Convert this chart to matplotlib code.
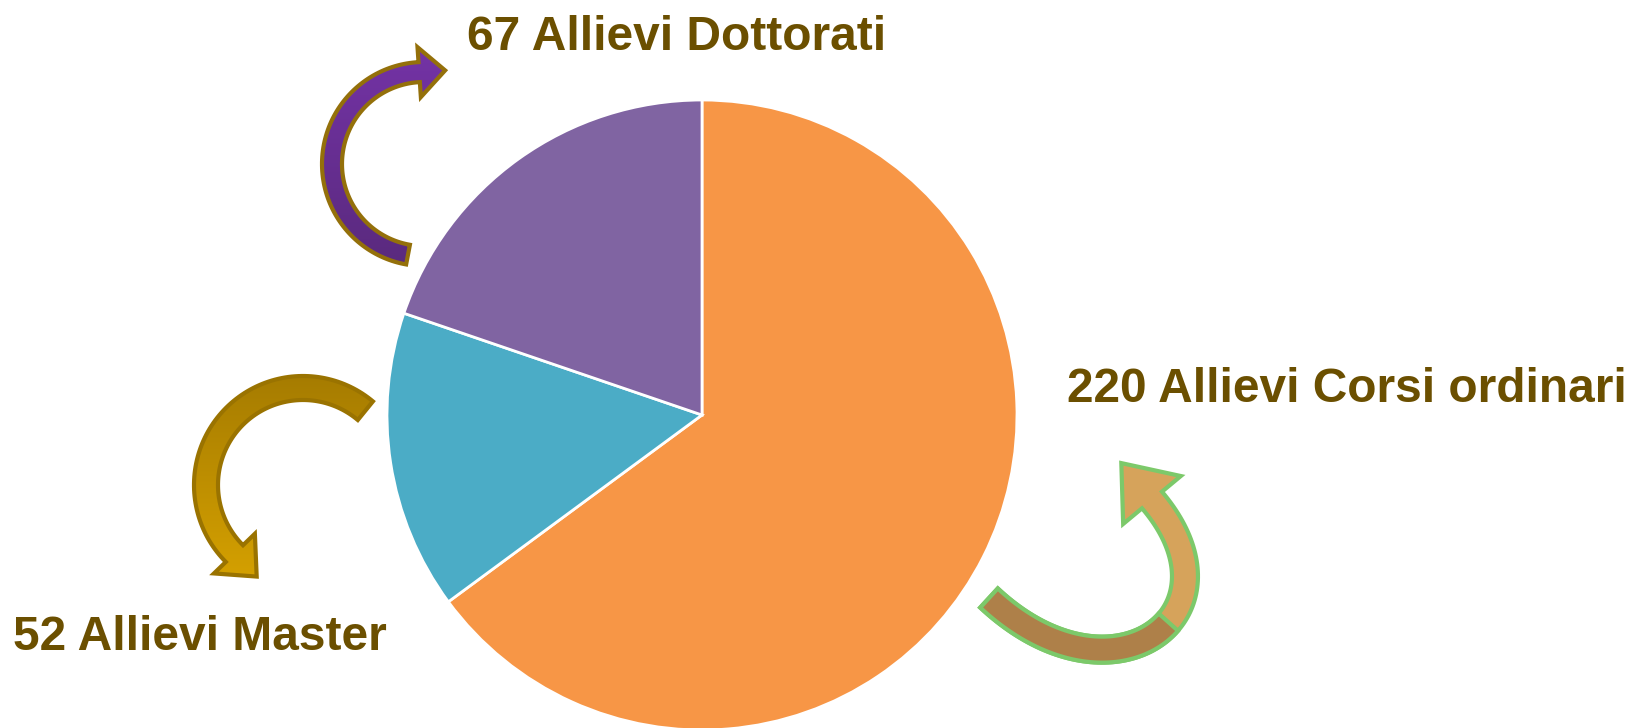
import numpy as np
import matplotlib
matplotlib.use("Agg")
import matplotlib.pyplot as plt
from matplotlib.patches import Polygon

plt.rcParams['font.family'] = ['Liberation Sans', 'DejaVu Sans']

# dati
categorie = ["Allievi Corsi ordinari", "Allievi Master", "Allievi Dottorati"]
valori = [220, 52, 67]
colori = ["#F79646", "#4BACC6", "#8064A2"]

W, H = 1637, 728
fig = plt.figure(figsize=(W / 100, H / 100), dpi=100)
ax = fig.add_axes([0, 0, 1, 1])

# torta (coordinate in pixel, y verso l'alto)
ax.pie(valori, colors=colori, startangle=90, counterclock=False,
       center=(702, H - 415), radius=315, frame=True,
       wedgeprops=dict(edgecolor="white", linewidth=2))


def arco(cx, cy, r, a0, a1):
    t = np.radians(np.linspace(a0, a1, 100))
    return np.column_stack([cx + r * np.cos(t), cy + r * np.sin(t)])


def bezier(p0, p1, p2, p3):
    t = np.linspace(0, 1, 100)[:, None]
    p0, p1, p2, p3 = map(np.array, (p0, p1, p2, p3))
    return ((1 - t) ** 3 * p0 + 3 * (1 - t) ** 2 * t * p1
            + 3 * (1 - t) * t ** 2 * p2 + t ** 3 * p3)


def contorno(c, w, hw=0, hl=0):
    # c: linea centrale in pixel (y verso il basso)
    d = np.gradient(c, axis=0)
    d /= np.linalg.norm(d, axis=1)[:, None]
    n = np.column_stack([-d[:, 1], d[:, 0]])
    a = c + n * w / 2
    b = c - n * w / 2
    pts = list(a)
    if hw:
        e, te, ne = c[-1], d[-1], n[-1]
        pts += [e + ne * hw / 2, e + te * hl, e - ne * hw / 2]
    pts += list(b[::-1])
    return [(x, H - y) for x, y in pts]


def sfuma(poly, c_alto, c_basso):
    ys = [p[1] for p in poly.get_xy()]
    xs = [p[0] for p in poly.get_xy()]
    grad = np.linspace(0, 1, 256)[:, None]
    cmap = matplotlib.colors.LinearSegmentedColormap.from_list("g", [c_alto, c_basso])
    im = ax.imshow(grad, cmap=cmap, aspect="auto", zorder=4.5,
                   extent=(min(xs), max(xs), min(ys), max(ys)), origin="upper")
    im.set_clip_path(poly)


def freccia(c, w, hw, hl, c_alto, c_basso, ec):
    p = Polygon(contorno(c, w, hw, hl), closed=True, facecolor="none",
                edgecolor=ec, linewidth=3, joinstyle="miter", zorder=5)
    ax.add_patch(p)
    sfuma(p, c_alto, c_basso)


freccia(arco(424, 164, 92, 100, 267), 20, 50, 26, "#7433A6", "#5A2A7E", "#94700A")
freccia(arco(303, 485, 97, -50, -225), 24, 57, 32, "#A67C00", "#D4A000", "#9A7300")

# freccia marrone: due tonalita
cb = bezier((989, 598), (1113, 714), (1249, 614), (1152, 500))
pb = Polygon(contorno(cb, 26, 75, 48), closed=True, facecolor="#D6A35B",
             edgecolor="#7CC96A", linewidth=3, joinstyle="miter", zorder=5)
ax.add_patch(pb)
ax.add_patch(Polygon(contorno(cb[:58], 26), closed=True, facecolor="#AE8049",
                     edgecolor="#7CC96A", linewidth=3, joinstyle="miter", zorder=5))

ax.set_xlim(0, W)
ax.set_ylim(0, H)
ax.set_aspect("equal")
ax.axis("off")

col_testo = "#6B4F00"
ax.text(467, H - 38, "67 Allievi Dottorati", fontsize=34.5, fontweight="bold",
        color=col_testo, va="center", ha="left")
ax.text(1067, H - 389, "220 Allievi Corsi ordinari", fontsize=34.5, fontweight="bold",
        color=col_testo, va="center", ha="left")
ax.text(13, H - 638, "52 Allievi Master", fontsize=34.5, fontweight="bold",
        color=col_testo, va="center", ha="left")

fig.savefig("out.png", dpi=100)
